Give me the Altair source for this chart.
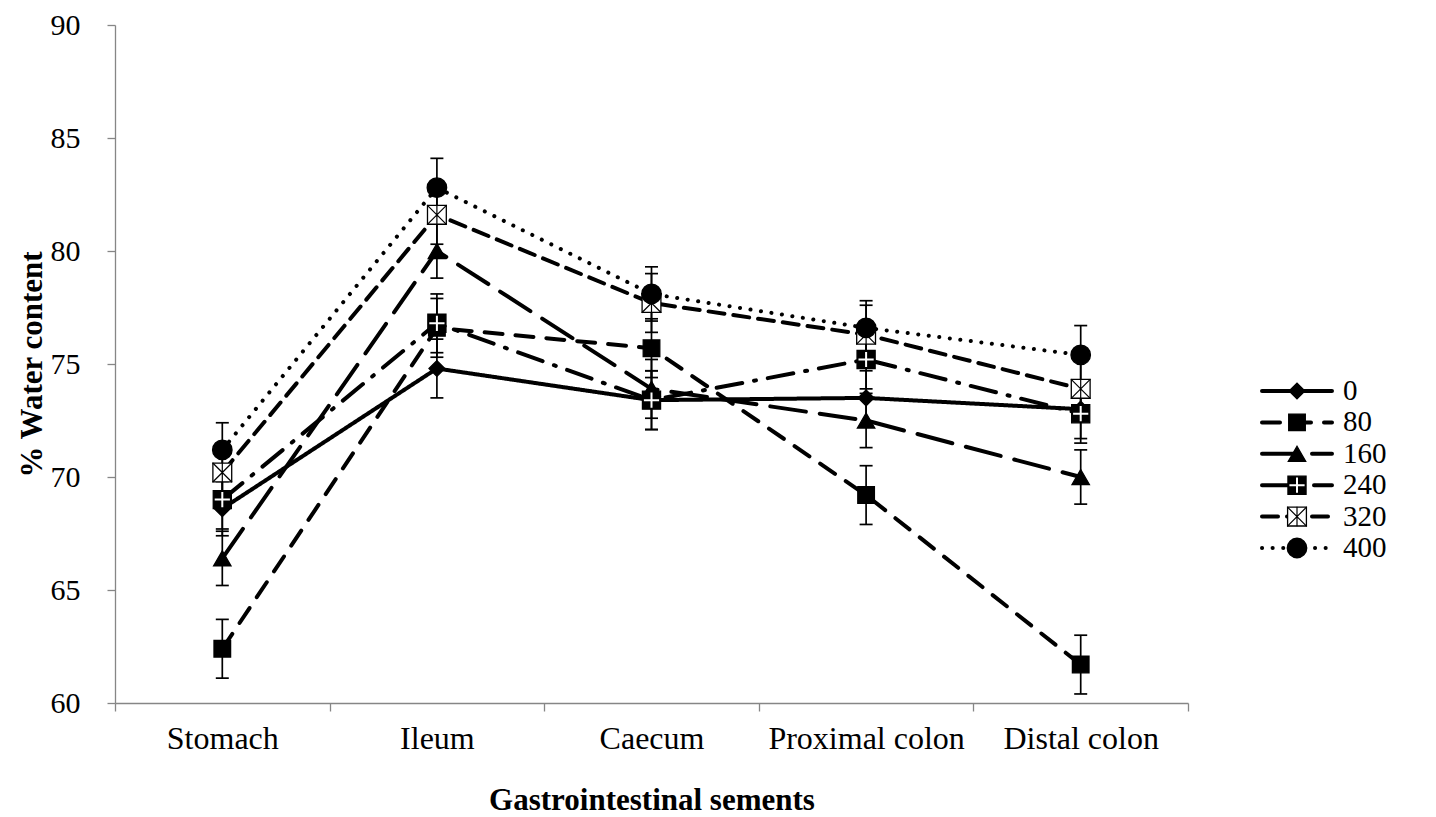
import altair as alt
import pandas as pd

segments = ["Stomach", "Ileum", "Caecum", "Proximal colon", "Distal colon"]
series = ["0", "80", "160", "240", "320", "400"]

water_0 = [68.6, 74.8, 73.4, 73.5, 73.0]
water_80 = [62.4, 76.6, 75.7, 69.2, 61.7]
water_160 = [66.4, 80.0, 73.9, 72.5, 70.0]
water_240 = [69.0, 76.8, 73.4, 75.2, 72.8]
water_320 = [70.2, 81.6, 77.7, 76.3, 73.9]
water_400 = [71.2, 82.8, 78.1, 76.6, 75.4]

err_0 = [1.2, 1.3, 1.3, 1.2, 1.3]
err_80 = [1.3, 1.3, 1.3, 1.3, 1.3]
err_160 = [1.2, 1.2, 1.3, 1.2, 1.2]
err_240 = [1.3, 1.3, 1.3, 1.3, 1.3]
err_320 = [1.2, 1.3, 1.3, 1.3, 1.3]
err_400 = [1.2, 1.3, 1.2, 1.2, 1.3]

values = [water_0, water_80, water_160, water_240, water_320, water_400]
errors = [err_0, err_80, err_160, err_240, err_320, err_400]

rows = []
for s, vals, errs in zip(series, values, errors):
    for seg, v, e in zip(segments, vals, errs):
        rows.append({"segment": seg, "series": s, "value": v, "lo": v - e, "hi": v + e})
df = pd.DataFrame(rows)
legend_df = pd.DataFrame({"series": series})

FONT = "Liberation Serif"
AX = "#868686"

dash_range = [[1, 0], [18, 13], [36, 14], [26, 12, 2, 12], [16, 9], [0.1, 10.5]]
shape_range = ["diamond", "square", "triangle-up", "square", "square", "circle"]
size_range = [250, 380, 440, 380, 380, 440]
fill_range = ["black", "black", "black", "black", "white", "black"]

dash_enc = alt.StrokeDash("series:N", scale=alt.Scale(domain=series, range=dash_range), legend=None)
shape_enc = alt.Shape("series:N", scale=alt.Scale(domain=series, range=shape_range), legend=None)
size_enc = alt.Size("series:N", scale=alt.Scale(domain=series, range=size_range), legend=None)
fill_enc = alt.Fill("series:N", scale=alt.Scale(domain=series, range=fill_range), legend=None)

x_enc = alt.X(
    "segment:N",
    sort=segments,
    bandPosition=0.5,
    scale=alt.Scale(type="band", paddingInner=0, paddingOuter=0),
    axis=alt.Axis(
        title="Gastrointestinal sements",
        tickBand="extent",
        labelAngle=0,
        labelLimit=0,
        domainColor=AX,
        tickColor=AX,
        domainWidth=1.3,
        tickWidth=1.3,
        tickSize=8,
        labelPadding=12,
        titlePadding=31,
        labelFont=FONT,
        labelFontSize=32,
        labelColor="black",
        titleFont=FONT,
        titleFontSize=31,
        titleFontWeight="bold",
        titleColor="black",
        grid=False,
    ),
)

yscale = alt.Scale(domain=[60, 90], nice=False, zero=False)
y_axis = alt.Axis(
    title="% Water content",
    values=[60, 65, 70, 75, 80, 85, 90],
    grid=False,
    domainColor=AX,
    tickColor=AX,
    domainWidth=1.3,
    tickWidth=1.3,
    tickSize=8,
    labelPadding=27,
    titlePadding=2,
    labelFont=FONT,
    labelFontSize=30,
    labelColor="black",
    titleFont=FONT,
    titleFontSize=31,
    titleFontWeight="bold",
    titleColor="black",
)

base = alt.Chart(df)

lines = base.mark_line(color="black", strokeWidth=4, strokeCap="round").encode(
    x=x_enc,
    y=alt.Y("value:Q", scale=yscale, axis=y_axis),
    strokeDash=dash_enc,
    detail="series:N",
)

bars = base.mark_rule(color="black", strokeWidth=1.7).encode(
    x=x_enc, y=alt.Y("lo:Q", scale=yscale), y2="hi:Q"
)
cap_lo = base.mark_tick(color="black", thickness=1.7, size=13, orient="horizontal", opacity=1).encode(
    x=x_enc, y=alt.Y("lo:Q", scale=yscale)
)
cap_hi = base.mark_tick(color="black", thickness=1.7, size=13, orient="horizontal", opacity=1).encode(
    x=x_enc, y=alt.Y("hi:Q", scale=yscale)
)

points = base.mark_point(filled=True, stroke="black", strokeWidth=1.3, opacity=1).encode(
    x=x_enc, y=alt.Y("value:Q", scale=yscale), shape=shape_enc, size=size_enc, fill=fill_enc
)

PLUS = "M-0.78,0L0.78,0M0,-0.78L0,0.78"
STAR = "M-1,-1L1,1M-1,1L1,-1M0,-1L0,1"

plus_240 = base.transform_filter(alt.datum.series == "240").mark_point(
    shape=PLUS, filled=False, stroke="white", strokeWidth=2, size=380, opacity=1
).encode(x=x_enc, y=alt.Y("value:Q", scale=yscale))
star_320 = base.transform_filter(alt.datum.series == "320").mark_point(
    shape=STAR, filled=False, stroke="black", strokeWidth=1.2, size=380, opacity=1
).encode(x=x_enc, y=alt.Y("value:Q", scale=yscale))

main = alt.layer(lines, bars, cap_lo, cap_hi, points, plus_240, star_320)

# legend (drawn beside the plot)
LX0, LX1, LXM, LXT = 1147, 1217, 1182, 1228
ly = alt.Y("series:N", scale=alt.Scale(type="point", domain=series, range=[366, 523], padding=0), axis=None)
lbase = alt.Chart(legend_df)
leg_line = lbase.mark_rule(color="black", strokeWidth=4, strokeCap="round").encode(
    x=alt.value(LX0), x2=alt.value(LX1), y=ly, strokeDash=dash_enc
)
leg_pts = lbase.mark_point(filled=True, stroke="black", strokeWidth=1.3, opacity=1).encode(
    x=alt.value(LXM), y=ly, shape=shape_enc, size=size_enc, fill=fill_enc
)
leg_plus = lbase.transform_filter(alt.datum.series == "240").mark_point(
    shape=PLUS, filled=False, stroke="white", strokeWidth=2, size=380, opacity=1
).encode(x=alt.value(LXM), y=ly)
leg_star = lbase.transform_filter(alt.datum.series == "320").mark_point(
    shape=STAR, filled=False, stroke="black", strokeWidth=1.2, size=380, opacity=1
).encode(x=alt.value(LXM), y=ly)
leg_text = lbase.mark_text(align="left", baseline="middle", font=FONT, fontSize=29, color="black").encode(
    x=alt.value(LXT), y=ly, text="series:N"
)
legend = alt.layer(leg_line, leg_pts, leg_plus, leg_star, leg_text)

chart = (
    alt.layer(main, legend)
    .resolve_scale(y="independent")
    .properties(width=1073, height=678, padding={"left": 8, "top": 2, "right": 5, "bottom": 5})
    .configure_view(stroke=None)
)

chart.save("out.html", embed_options={"renderer": "svg", "actions": False})
